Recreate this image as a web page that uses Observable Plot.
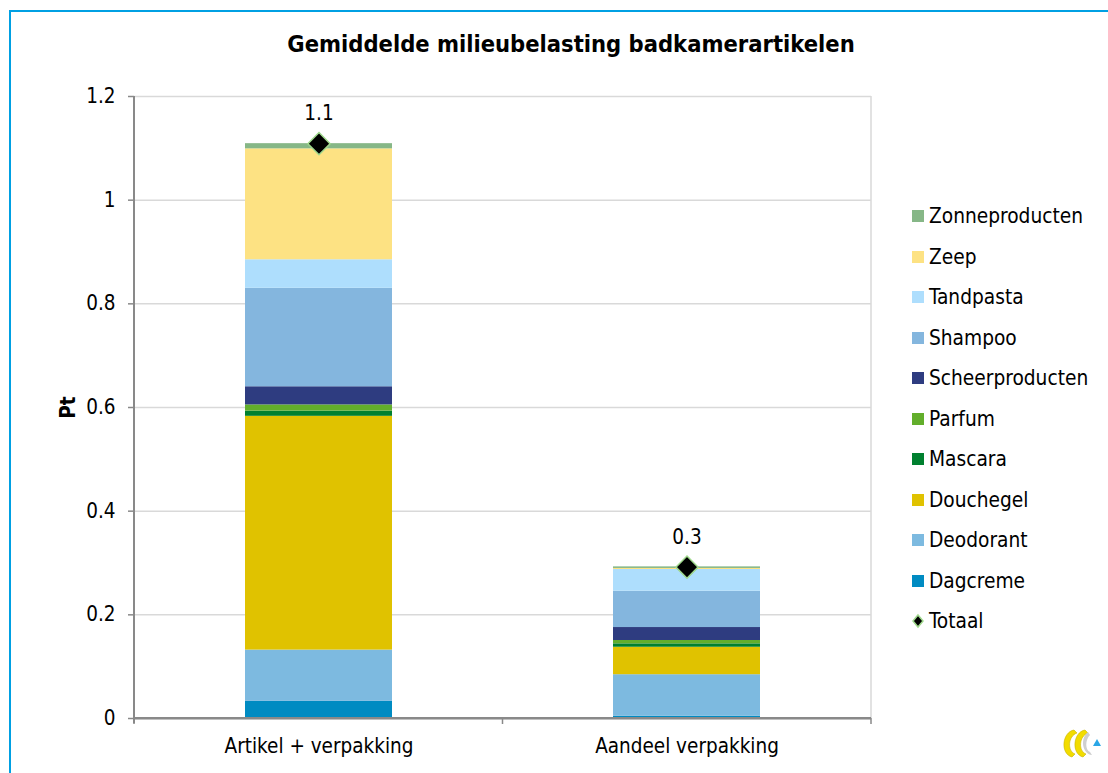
<!DOCTYPE html>
<html>
<head>
<meta charset="utf-8">
<script src="https://cdn.jsdelivr.net/npm/d3@7"></script>
<script src="https://cdn.jsdelivr.net/npm/@observablehq/plot@0.6"></script>
<style>
  html, body { margin: 0; padding: 0; background: #fff; overflow: hidden; }
  body { width: 1108px; height: 773px; position: relative;
         font-family: "DejaVu Sans Condensed", "DejaVu Sans", sans-serif; font-stretch: condensed; color: #000; }
  #frame { position: absolute; left: 9px; top: 10px; width: 1200px; height: 900px;
           border: 2px solid #00a0e3; box-sizing: border-box; }
  #chart { position: absolute; left: 0; top: 0; }
  #title { position: absolute; left: 0; width: 1142px; top: 30px; text-align: center;
           font-size: 23.5px; font-weight: bold; }
  #legend { position: absolute; left: 912px; top: 203px; }
  .li { height: 40.5px; display: flex; align-items: flex-start; font-size: 20.7px; line-height: 26px; }
  .sw { width: 12px; height: 12px; margin-top: 7px; margin-right: 5px; flex: none; }
  #logo { position: absolute; left: 1058px; top: 724px; }
</style>
</head>
<body>
<div id="frame"></div>
<div id="chart"></div>
<div id="title">Gemiddelde milieubelasting badkamerartikelen</div>
<div id="legend"></div>
<svg id="logo" width="46" height="40" viewBox="0 0 46 40">
  <path d="M16 6 C 4 8, 2 30, 14 33 L 17 30 C 9 27, 10 12, 19 9 Z" fill="#f2dc00" stroke="#c8b400" stroke-width="0.6"/>
  <path d="M27 6 C 15 8, 13 30, 25 33 L 28 30 C 20 27, 21 12, 30 9 Z" fill="#f2dc00" stroke="#c8b400" stroke-width="0.6"/>
  <path d="M30 8 C 22 14, 24 30, 34 31 L 32 28 C 27 26, 27 16, 32 11 Z" fill="#cfcfcf"/>
  <path d="M35 22 L 43 22 L 39 15 Z" fill="#2aa6e6"/>
</svg>
<script>
// ---- data ----
const categories = ["Artikel + verpakking", "Aandeel verpakking"];
const series = ["Dagcreme", "Deodorant", "Douchegel", "Mascara", "Parfum",
                "Scheerproducten", "Shampoo", "Tandpasta", "Zeep", "Zonneproducten"];
const colors = ["#008bc2", "#7dbae0", "#e0c200", "#00802f", "#62ae2b",
                "#2e3c80", "#84b6de", "#aedefd", "#fde283", "#86b787"];
const artikelVerpakking = [0.033, 0.099, 0.451, 0.010, 0.012, 0.035, 0.190, 0.055, 0.214, 0.010];
const aandeelVerpakking = [0.0045, 0.080, 0.053, 0.0065, 0.0065, 0.025, 0.070, 0.042, 0.002, 0.003];
const totals = [1.109, 0.292];
const yTicks = [0, 0.2, 0.4, 0.6, 0.8, 1.0, 1.2];
const yLabel = "Pt";
const totalName = "Totaal";

// ---- build tables ----
const rows = [];
series.forEach((s, i) => {
  rows.push({category: categories[0], series: s, value: artikelVerpakking[i]});
  rows.push({category: categories[1], series: s, value: aandeelVerpakking[i]});
});
const totalRows = categories.map((c, i) => ({category: c, total: totals[i]}));

const font = `"DejaVu Sans Condensed", "DejaVu Sans", sans-serif`;

const plot = Plot.plot({
  width: 1108,
  height: 773,
  marginLeft: 134,
  marginRight: 237,
  marginTop: 96,
  marginBottom: 55,
  style: {fontFamily: font, fontSize: "20.5px", color: "#000", background: "transparent", fontStretch: "condensed"},
  x: {domain: categories, paddingInner: 0.6, paddingOuter: 0.3, label: null},
  y: {domain: [0, 1.2], label: null},
  color: {domain: series, range: colors},
  marks: [
    Plot.gridY(yTicks, {stroke: "#d9d9d9", strokeOpacity: 1, strokeWidth: 1.5}),
    Plot.barY(rows, {x: "category", y: "value", fill: "series", order: series}),
    Plot.ruleY([0], {stroke: "#898989", strokeWidth: 2}),
    Plot.axisY(yTicks, {tickSize: 6, tickPadding: 13, tickFormat: d3.format("~g"),
                        stroke: "#898989", strokeWidth: 1.5, label: yLabel, labelAnchor: "center",
                        labelArrow: "none", labelOffset: 74}),
    Plot.axisX({tickSize: 0, tickPadding: 20}),
    Plot.dot(totalRows, {x: "category", y: "total", symbol: "diamond2", r: 10,
                         fill: "#000", stroke: "#9fd88c", strokeWidth: 1.5}),
    Plot.text(totalRows, {x: "category", y: "total", text: d => d3.format(".1f")(d.total),
                          dy: -30, fontSize: 20.5})
  ]
});
document.getElementById("chart").appendChild(plot);

// bold y label
d3.select(plot).selectAll('[aria-label="y-axis label"] text').attr("font-weight", "bold");

// axis lines, band boundary ticks and right border (from scales)
const xs = plot.scale("x"), ys = plot.scale("y");
const svg = d3.select(plot);
const x0 = xs.range[0], x1 = xs.range[1];
const yTop = ys.apply(1.2), yBot = ys.apply(0);
const step = (x1 - x0) / categories.length;
const g = svg.append("g");
g.append("line").attr("x1", x1).attr("x2", x1).attr("y1", yTop).attr("y2", yBot)
  .attr("stroke", "#d9d9d9").attr("stroke-width", 1.5);
g.append("line").attr("x1", x0).attr("x2", x0).attr("y1", yTop).attr("y2", yBot + 5)
  .attr("stroke", "#898989").attr("stroke-width", 2);
d3.range(categories.length + 1).forEach(i => {
  const x = x0 + i * step;
  g.append("line").attr("x1", x).attr("x2", x).attr("y1", yBot).attr("y2", yBot + 6)
    .attr("stroke", "#898989").attr("stroke-width", 1.5);
});
g.append("line").attr("x1", x0).attr("x2", x1).attr("y1", yBot).attr("y2", yBot)
  .attr("stroke", "#898989").attr("stroke-width", 2);
// keep the total markers above the added axis lines
svg.selectAll('[aria-label="dot"], [aria-label="text"]').raise();

// legend (top to bottom: reversed stack order, then total)
const legend = d3.select("#legend");
series.slice().reverse().forEach(s => {
  const i = series.indexOf(s);
  const row = legend.append("div").attr("class", "li");
  row.append("div").attr("class", "sw").style("background", colors[i]);
  row.append("span").text(s);
});
const trow = legend.append("div").attr("class", "li");
trow.append("svg").attr("width", 12).attr("height", 26).style("margin-right", "5px")
  .append("path").attr("d", "M6 7 L11 13 L6 19 L1 13 Z")
  .attr("fill", "#000").attr("stroke", "#9fd88c").attr("stroke-width", 1.5);
trow.append("span").text(totalName);
</script>
</body>
</html>
